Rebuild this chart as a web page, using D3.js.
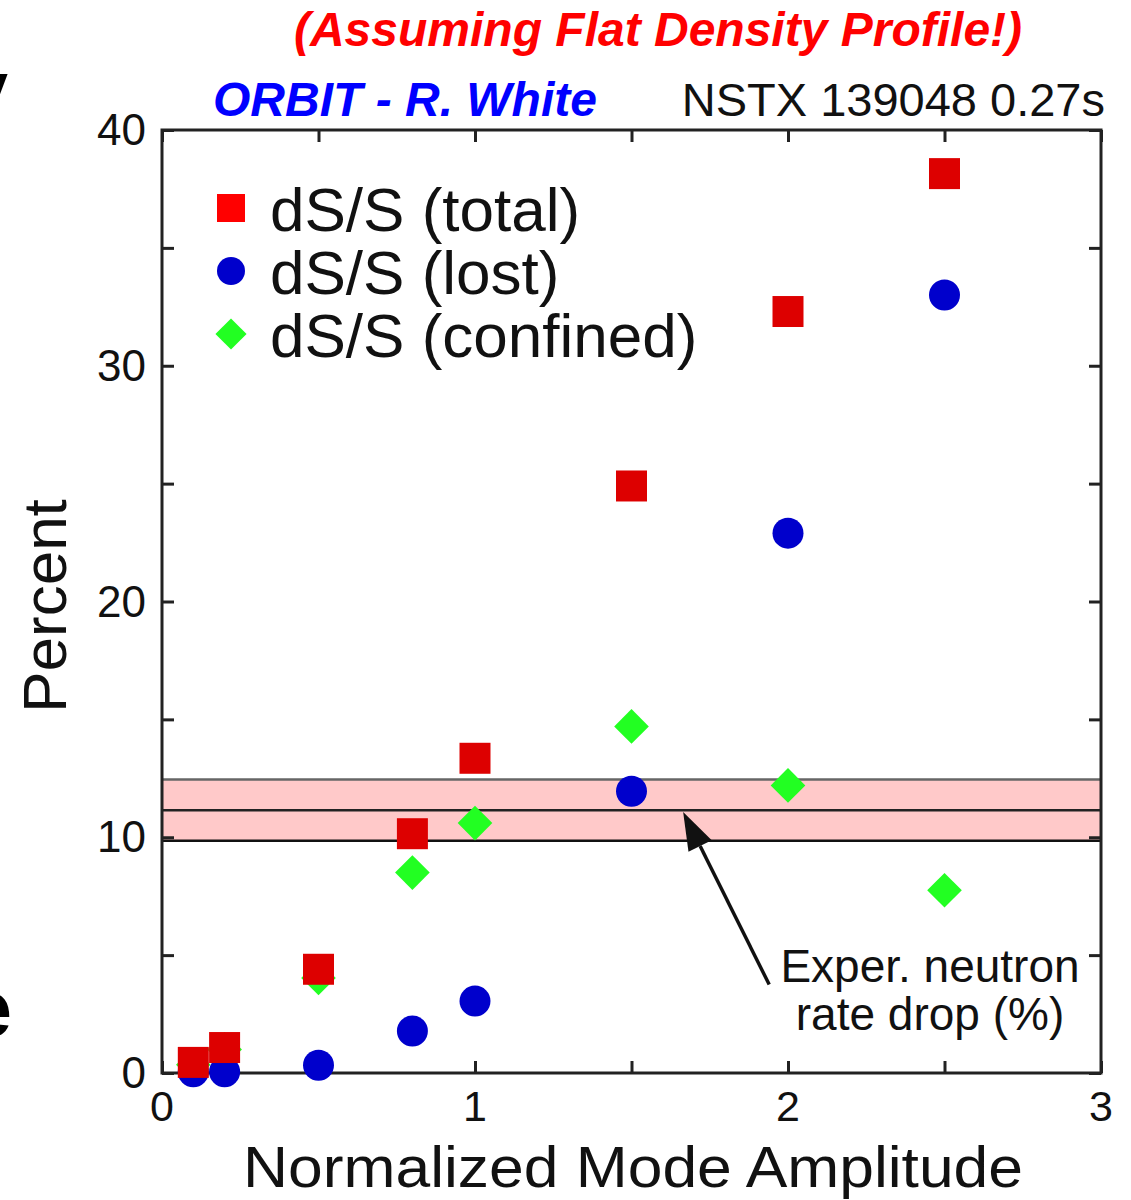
<!DOCTYPE html>
<html><head><meta charset="utf-8">
<script src="https://cdn.jsdelivr.net/npm/d3@7"></script>
<style>html,body{margin:0;padding:0;background:#fff;} svg{display:block;}</style>
</head><body>
<svg id="chart" width="1131" height="1200"></svg>
<script>
const amplitude = [0.1, 0.2, 0.5, 0.8, 1.0, 1.5, 2.0, 2.5];
const totalPct = [0.45, 1.08, 4.4, 10.15, 13.35, 24.9, 32.3, 38.15];
const lostPct = [0.05, 0.05, 0.33, 1.78, 3.05, 11.95, 22.9, 33.0];
const confinedPct = [0.35, 1.0, 4.03, 8.5, 10.6, 14.7, 12.2, 7.75];
const seriesNames = ["dS/S (total)", "dS/S (lost)", "dS/S (confined)"];
const xTicks = [0, 1, 2, 3];
const yTicks = [0, 10, 20, 30, 40];
const bandRange = [9.85, 12.45];
const bandCenter = 11.15;

const svg = d3.select("#chart");
const font = "'Liberation Sans', Arial, Helvetica, sans-serif";
const L = 162, R = 1101, T = 130, B = 1073;
const x = d3.scaleLinear().domain([0, 3]).range([L, R]);
const y = d3.scaleLinear().domain([0, 40]).range([B, T]);

// left-edge slide fragments (cut off by the slide edge in the original)
svg.append("text").attr("x", 8).attr("y", 114).attr("text-anchor", "end")
  .attr("font-family", font).attr("font-weight", "bold").attr("font-size", 76).text("y");
svg.append("text").attr("x", 12).attr("y", 1036).attr("text-anchor", "end")
  .attr("font-family", font).attr("font-weight", "bold").attr("font-size", 80).text("e");

// titles
svg.append("text").attr("x", 658).attr("y", 46).attr("text-anchor", "middle")
  .attr("font-family", font).attr("font-weight", "bold").attr("font-style", "italic")
  .attr("font-size", 48).attr("fill", "#ff0000").text("(Assuming Flat Density Profile!)");
svg.append("text").attr("x", 213).attr("y", 116)
  .attr("font-family", font).attr("font-weight", "bold").attr("font-style", "italic")
  .attr("font-size", 48).attr("fill", "#0000ff").text("ORBIT - R. White");
svg.append("text").attr("x", 1105).attr("y", 116).attr("text-anchor", "end")
  .attr("font-family", font).attr("font-size", 47).attr("fill", "#111").text("NSTX 139048 0.27s");

// band
svg.append("rect").attr("x", L).attr("width", R - L)
  .attr("y", y(bandRange[1])).attr("height", y(bandRange[0]) - y(bandRange[1]))
  .attr("fill", "#ffc9c9");
svg.append("line").attr("x1", L).attr("x2", R).attr("y1", y(bandRange[1])).attr("y2", y(bandRange[1]))
  .attr("stroke", "#666").attr("stroke-width", 2.5);
svg.append("line").attr("x1", L).attr("x2", R).attr("y1", y(bandCenter)).attr("y2", y(bandCenter))
  .attr("stroke", "#222").attr("stroke-width", 2.5);
svg.append("line").attr("x1", L).attr("x2", R).attr("y1", y(bandRange[0])).attr("y2", y(bandRange[0]))
  .attr("stroke", "#111").attr("stroke-width", 2.5);

// axes (inward ticks on all four sides)
const tickLen = 12;
const xt = d3.range(0, 3.01, 0.5), yt = d3.range(0, 40.1, 5);
const axisColor = "#222";
svg.append("g").attr("transform", `translate(0,${B})`)
  .call(d3.axisBottom(x).tickValues(xt).tickSize(-tickLen).tickFormat(""))
  .call(g => g.select(".domain").remove());
svg.append("g").attr("transform", `translate(0,${T})`)
  .call(d3.axisTop(x).tickValues(xt).tickSize(-tickLen).tickFormat(""))
  .call(g => g.select(".domain").remove());
svg.append("g").attr("transform", `translate(${L},0)`)
  .call(d3.axisLeft(y).tickValues(yt).tickSize(-tickLen).tickFormat(""))
  .call(g => g.select(".domain").remove());
svg.append("g").attr("transform", `translate(${R},0)`)
  .call(d3.axisRight(y).tickValues(yt).tickSize(-tickLen).tickFormat(""))
  .call(g => g.select(".domain").remove());
svg.selectAll(".tick line").attr("stroke", axisColor).attr("stroke-width", 3);
svg.append("rect").attr("x", L).attr("y", T).attr("width", R - L).attr("height", B - T)
  .attr("fill", "none").attr("stroke", axisColor).attr("stroke-width", 3);

// tick labels
svg.append("g").selectAll("text").data(xTicks).join("text")
  .attr("x", d => x(d)).attr("y", 1121).attr("text-anchor", "middle")
  .attr("font-family", font).attr("font-size", 43).attr("fill", "#111").text(d => d);
svg.append("g").selectAll("text").data(yTicks).join("text")
  .attr("x", 146).attr("y", d => y(d) + 15).attr("text-anchor", "end")
  .attr("font-family", font).attr("font-size", 44).attr("fill", "#111").text(d => d);

// axis titles
svg.append("text").attr("x", 633).attr("y", 1187).attr("text-anchor", "middle")
  .attr("font-family", font).attr("font-size", 58).attr("fill", "#111")
  .attr("textLength", 780).attr("lengthAdjust", "spacingAndGlyphs").text("Normalized Mode Amplitude");
svg.append("text").attr("transform", `translate(66,${606}) rotate(-90)`).attr("text-anchor", "middle")
  .attr("font-family", font).attr("font-size", 62).attr("fill", "#111").text("Percent");

// markers
const sq = d3.symbol().type(d3.symbolSquare).size(31 * 31)();
const circ = d3.symbol().type(d3.symbolCircle).size(Math.PI * 15.5 * 15.5)();
const dia = d3.symbol().type(d3.symbolSquare).size(24.5 * 24.5)();
const data = amplitude.map((a, i) => ({a, t: totalPct[i], l: lostPct[i], c: confinedPct[i]}));
svg.append("g").selectAll("path").data(data).join("path")
  .attr("d", dia).attr("fill", "#22ff22")
  .attr("transform", d => `translate(${x(d.a)},${y(d.c)}) rotate(45)`);
svg.append("g").selectAll("path").data(data).join("path")
  .attr("d", circ).attr("fill", "#0000cc")
  .attr("transform", d => `translate(${x(d.a)},${y(d.l)})`);
svg.append("g").selectAll("path").data(data).join("path")
  .attr("d", sq).attr("fill", "#dd0000")
  .attr("transform", d => `translate(${x(d.a)},${y(d.t)})`);

// legend
const legY = [208, 271, 334];
const legSyms = [
  {d: d3.symbol().type(d3.symbolSquare).size(28 * 28)(), fill: "#ff0000", rot: 0},
  {d: d3.symbol().type(d3.symbolCircle).size(Math.PI * 14 * 14)(), fill: "#0000cc", rot: 0},
  {d: d3.symbol().type(d3.symbolSquare).size(22 * 22)(), fill: "#22ff22", rot: 45}
];
legSyms.forEach((s, i) => {
  svg.append("path").attr("d", s.d).attr("fill", s.fill)
    .attr("transform", `translate(231,${legY[i]}) rotate(${s.rot})`);
  svg.append("text").attr("x", 270).attr("y", legY[i] + 23)
    .attr("font-family", font).attr("font-size", 62).attr("fill", "#111").text(seriesNames[i]);
});

// annotation arrow
const tail = [1.94, 3.75], tip = [1.665, 11.07];
const tx = x(tip[0]), ty = y(tip[1]), sx = x(tail[0]), sy = y(tail[1]);
const ang = Math.atan2(ty - sy, tx - sx);
const hl = 38, hw = 13;
const bx = tx - hl * Math.cos(ang), by = ty - hl * Math.sin(ang);
svg.append("line").attr("x1", sx).attr("y1", sy).attr("x2", bx).attr("y2", by)
  .attr("stroke", "#111").attr("stroke-width", 3.5);
svg.append("path").attr("fill", "#111").attr("d",
  `M${tx},${ty} L${bx + hw * Math.sin(ang)},${by - hw * Math.cos(ang)} L${bx - hw * Math.sin(ang)},${by + hw * Math.cos(ang)} Z`);
svg.append("text").attr("x", 930).attr("y", 982).attr("text-anchor", "middle")
  .attr("font-family", font).attr("font-size", 46).attr("fill", "#111").text("Exper. neutron");
svg.append("text").attr("x", 930).attr("y", 1030).attr("text-anchor", "middle")
  .attr("font-family", font).attr("font-size", 46).attr("fill", "#111").text("rate drop (%)");
</script>
</body></html>
